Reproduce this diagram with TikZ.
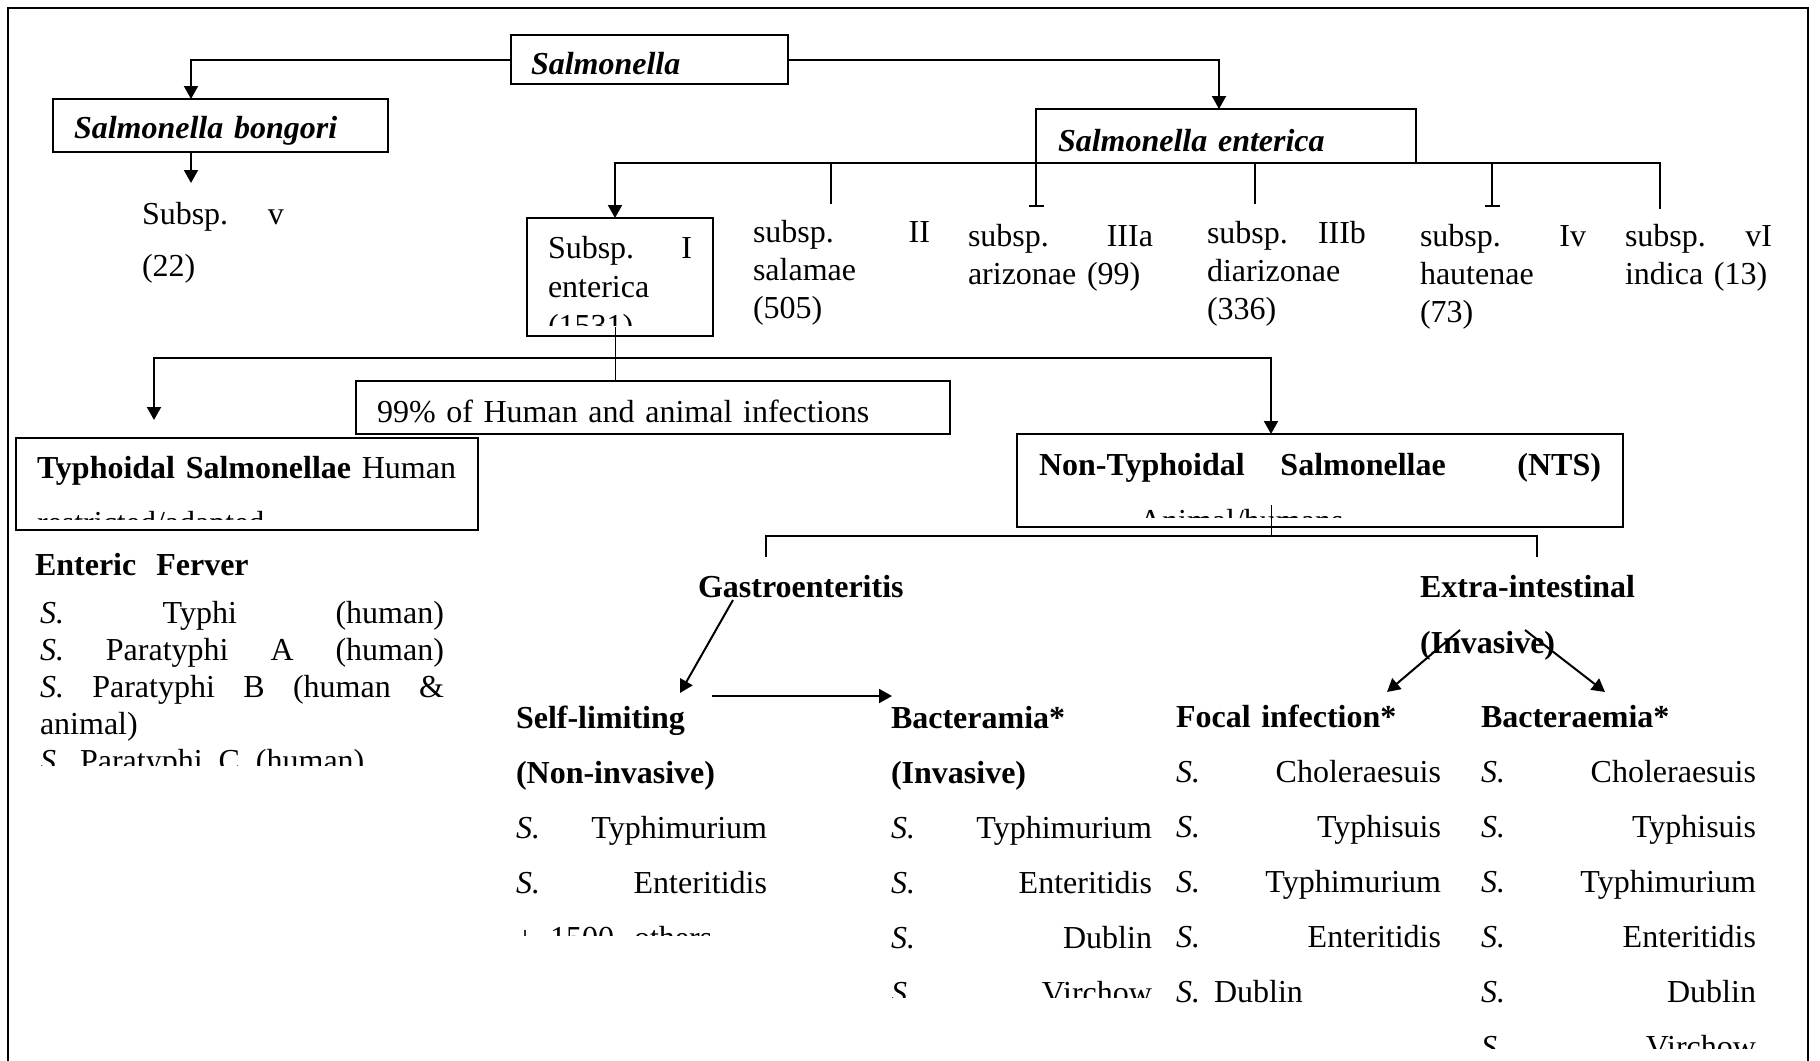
\documentclass[tikz,border=0pt]{standalone}
\usepackage{fontspec}
\setmainfont{Liberation Serif}
\usetikzlibrary{arrows.meta,calc}

\begin{document}
\begin{tikzpicture}[x=1pt,y=-1pt,line width=2pt,
    >={Triangle[width=14pt,length=13pt]},
    font=\fontsize{32}{37}\selectfont,
    box/.style={draw,anchor=north west,inner ysep=0pt,outer sep=0pt,align=left},
    txt/.style={anchor=base west,inner sep=0pt,outer sep=0pt,align=left},
    sub/.style={txt,font=\fontsize{32}{38}\selectfont},
    wide/.style={txt,font=\fontsize{32}{55}\selectfont},
    thinline/.style={line width=1pt}]
\useasboundingbox (0,0) rectangle (1820,1060);
\clip (0,0) rectangle (1820,1060);
\draw (8,8) rectangle (1808,1080);

\node[box,text width=237pt,inner xsep=20pt,text height=39pt,text depth=10pt] (root) at (511,35) {\textbf{\textit{Salmonella}}};
\node[box,text width=293pt,inner xsep=21pt,text height=39pt,text depth=14pt] (bong) at (53,99) {\textbf{\textit{Salmonella bongori}}};
\node[box,text width=336pt,inner xsep=22pt,text height=42pt,text depth=12pt] (ent) at (1036,109) {\textbf{\textit{Salmonella enterica}}};

\node[txt,font=\fontsize{32}{52}\selectfont,text width=142pt] (sv) at (142,224) {Subsp.\hfill v\\(22)};
\begin{scope}
  \clip (500,200) rectangle (730,325);
  \node[box,font=\fontsize{32}{39}\selectfont,text width=144pt,inner xsep=21pt,text height=40pt,text depth=78pt] (s1) at (527,218) {Subsp.\hfill I\\enterica\\(1531)};
\end{scope}
\draw (s1.north west) rectangle (s1.south east);
\node[sub,text width=177pt] (s2) at (753,242) {subsp.\hfill II\\salamae\\(505)};
\node[sub,text width=185pt] (s3) at (968,246) {subsp.\hfill IIIa\\arizonae (99)};
\node[sub,text width=159pt] (s4) at (1207,243) {subsp.\hfill IIIb\\diarizonae\\(336)};
\node[sub,text width=166pt] (s5) at (1420,246) {subsp.\hfill Iv\\hautenae\\(73)};
\node[sub,text width=147pt] (s6) at (1625,246) {subsp.\hfill vI\\indica (13)};

\node[box,text width=552pt,inner xsep=21pt,text height=41pt,text depth=12pt] (pc) at (356,381) {99\% of Human and animal infections};
\begin{scope}
  \clip (0,420) rectangle (500,519);
  \node[box,font=\fontsize{32}{55}\selectfont,text width=420pt,inner xsep=21pt,text height=40pt,text depth=52pt] (ty) at (16,438) {\textbf{Typhoidal Salmonellae} Human\\restricted/adapted};
\end{scope}
\draw (ty.north west) rectangle (ty.south east);
\begin{scope}
  \clip (1000,420) rectangle (1640,517);
  \node[box,font=\fontsize{32}{56}\selectfont,text width=562pt,inner xsep=22pt,text height=41pt,text depth=52pt] (nts) at (1017,434) {\textbf{Non-Typhoidal\hfill Salmonellae\hfill\hfill (NTS)}\\\hspace*{100pt}Animal/humans};
\end{scope}
\draw (nts.north west) rectangle (nts.south east);

\node[txt] (ef) at (35,575) {\textbf{Enteric\hspace{12pt} Ferver}};
\begin{scope}
  \clip (0,590) rectangle (500,765);
  \node[txt,text width=404pt] (efl) at (40,623) {\textit{S.}\hfill Typhi\hfill (human)\\
    \textit{S.}\hfill Paratyphi\hfill A\hfill (human)\\
    \textit{S.}\hfill Paratyphi\hfill B\hfill (human\hfill \&\\
    animal)\\
    \textit{S.}\hspace{16pt}Paratyphi\hspace{16pt}C\hspace{16pt}(human)};
\end{scope}

\node[txt] (ga) at (698,597) {\textbf{Gastroenteritis}};
\node[wide,font=\fontsize{32}{56}\selectfont,text width=230pt] (ex) at (1420,597) {\textbf{Extra-intestinal}\\\textbf{(Invasive)}};

\begin{scope}
  \clip (500,690) rectangle (880,935);
  \node[wide,text width=251pt] (c1) at (516,728) {\textbf{Self-limiting}\\\textbf{(Non-invasive)}\\
    \textit{S.}\hfill Typhimurium\\\textit{S.}\hfill Enteritidis\\
    +\hspace{16pt}1500\hspace{20pt}others};
\end{scope}
\begin{scope}
  \clip (880,690) rectangle (1170,997);
  \node[wide,text width=261pt] (c2) at (891,728) {\textbf{Bacteramia*}\\\textbf{(Invasive)}\\
    \textit{S.}\hfill Typhimurium\\\textit{S.}\hfill Enteritidis\\
    \textit{S.}\hfill Dublin\\\textit{S.}\hfill Virchow};
\end{scope}
\node[wide,text width=265pt] (c3) at (1176,727) {\textbf{Focal infection*}\\
    \textit{S.}\hfill Choleraesuis\\\textit{S.}\hfill Typhisuis\\
    \textit{S.}\hfill Typhimurium\\\textit{S.}\hfill Enteritidis\\
    \textit{S.}\hspace{14pt}Dublin};
\begin{scope}
  \clip (1460,690) rectangle (1800,1048);
  \node[wide,text width=275pt] (c4) at (1481,727) {\textbf{Bacteraemia*}\\
    \textit{S.}\hfill Choleraesuis\\\textit{S.}\hfill Typhisuis\\
    \textit{S.}\hfill Typhimurium\\\textit{S.}\hfill Enteritidis\\
    \textit{S.}\hfill Dublin\\\textit{S.}\hfill Virchow};
\end{scope}

\draw[->] (root.west) -| ($(bong.north west)+(138,0)$);
\draw[->] (root.east) -| ($(ent.north west)+(183,0)$);
\draw[->] ($(bong.south west)+(138,0)$) -- ++(0,31);
\draw[->] (ent.south west) -| ($(s1.north west)+(88,0)$);
\draw (ent.south east) -- ++(244,0) -- ++(0,46);
\draw ($(ent.south west)+(-205,0)$) -- ++(0,41);
\draw[-{Bar[width=15pt]}] (ent.south west) -- ++(0,44);
\draw ($(ent.south west)+(219,0)$) -- ++(0,41);
\draw[-{Bar[width=15pt]}] ($(ent.south west)+(456,0)$) -- ++(0,44);

\draw[thinline] ($(s1.south west)+(88,-9)$) -- ($(pc.north west)+(259,0)$);
\draw[->] ($(s1.south west)+(88,22)$) -| ($(ty.north west)+(138,-18)$);
\draw[->] ($(s1.south west)+(88,22)$) -| ($(nts.north west)+(254,0)$);

\draw[thinline] ($(nts.south west)+(254,-22)$) -- ++(0,31);
\draw ($(ga.base west)+(68,-40)$) |- ($(nts.south west)+(254,9)$) -| ($(ex.base west)+(117,-40)$);

\draw[->] ($(ga.base west)+(35,3)$) -- ($(c1.base west)+(164,-35)$);
\draw[->] ($(c1.base west)+(196,-32)$) -- ($(c2.base west)+(1,-32)$);
\draw[->] ($(ex.base west)+(40,33)$) -- ($(c3.base west)+(211,-35)$);
\draw[->] ($(ex.base west)+(105,33)$) -- ($(c4.base west)+(124,-35)$);
\end{tikzpicture}
\end{document}
